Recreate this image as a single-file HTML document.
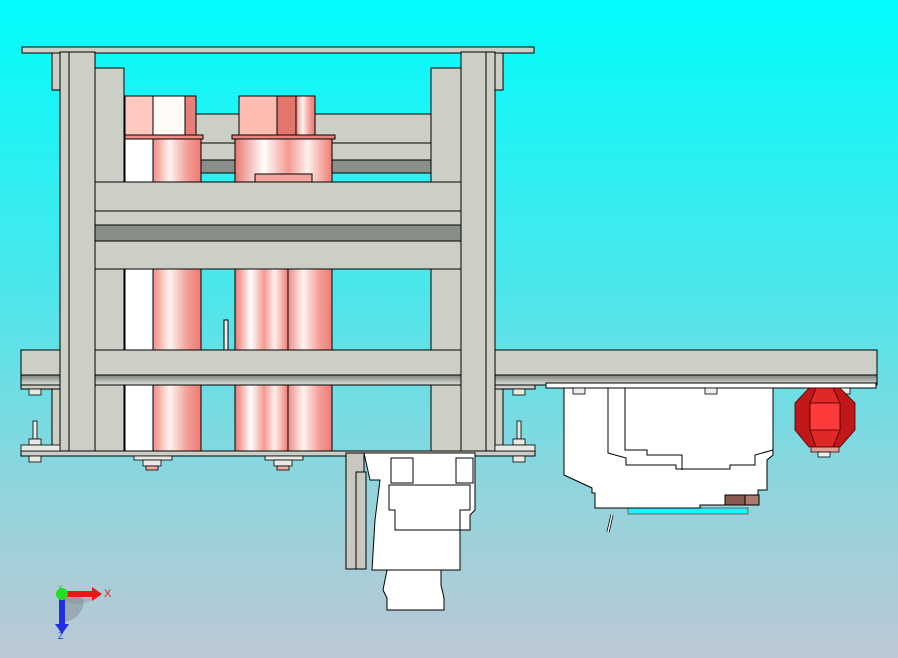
<!DOCTYPE html>
<html><head><meta charset="utf-8"><style>
html,body{margin:0;padding:0;width:898px;height:658px;overflow:hidden}
svg{display:block}
</style></head><body>
<svg width="898" height="658" viewBox="0 0 898 658" xmlns="http://www.w3.org/2000/svg">
<defs>
<linearGradient id="bg" x1="0" y1="0" x2="0" y2="1">
<stop offset="0" stop-color="#00fcfc"/><stop offset="0.45" stop-color="#4ee6ea"/><stop offset="0.75" stop-color="#92d4dc"/><stop offset="1" stop-color="#bcc8d4"/></linearGradient>
<linearGradient id="cyl" x1="0" y1="0" x2="1" y2="0">
<stop offset="0" stop-color="#f08a84"/><stop offset="0.35" stop-color="#fff4f0"/><stop offset="0.7" stop-color="#f4a09a"/><stop offset="1" stop-color="#f07a74"/></linearGradient>
<linearGradient id="cyl2" x1="0" y1="0" x2="1" y2="0">
<stop offset="0" stop-color="#e87870"/><stop offset="0.3" stop-color="#fff"/><stop offset="0.55" stop-color="#f49a92"/><stop offset="0.75" stop-color="#fff0ec"/><stop offset="1" stop-color="#f07c74"/></linearGradient>
<linearGradient id="sh" x1="0" y1="0" x2="0" y2="1">
<stop offset="0" stop-color="#7c807a"/><stop offset="1" stop-color="#e0e2dc"/></linearGradient>
</defs>
<rect width="898" height="658" fill="url(#bg)"/>
<g stroke="#000" stroke-width="1" fill="#cbcfc6">
<!-- top plate -->
<rect x="22" y="47" width="512" height="6"/>
<!-- back beam and rail -->
<rect x="196" y="114" width="235" height="29"/>
<rect x="196" y="143" width="235" height="17"/>
<rect x="196" y="160" width="235" height="13" fill="#8a8e88"/>
<!-- inner columns -->
<rect x="95" y="68" width="29" height="384"/>
<rect x="431" y="68" width="30" height="384"/>
<!-- cylinder 1 -->
<rect x="125" y="96" width="28" height="39" fill="#fcc8c0"/>
<rect x="153" y="96" width="32" height="39" fill="#fffaf6"/>
<rect x="185" y="96" width="11" height="39" fill="#e87f78"/>
<rect x="125" y="135" width="78" height="4" fill="#f08a84"/>
<rect x="125" y="139" width="28" height="43" fill="#fff"/>
<rect x="153" y="139" width="48" height="43" fill="url(#cyl)"/>
<!-- cylinder 2 -->
<rect x="239" y="96" width="38" height="39" fill="#fcbcb2"/>
<rect x="277" y="96" width="19" height="39" fill="#e2756c"/>
<rect x="296" y="96" width="19" height="39" fill="url(#cyl)"/>
<rect x="232" y="135" width="103" height="4" fill="#e8827c"/>
<rect x="235" y="139" width="97" height="43" fill="url(#cyl2)"/>
<rect x="255" y="174" width="57" height="8" fill="#f4a49c"/>
<!-- lower cylinders -->
<rect x="125" y="269" width="28" height="183" fill="#fff"/>
<rect x="153" y="269" width="48" height="183" fill="url(#cyl)"/>
<rect x="235" y="269" width="53" height="183" fill="url(#cyl2)"/>
<rect x="288" y="269" width="44" height="183" fill="url(#cyl)"/>
<rect x="224" y="320" width="4" height="30" fill="#eee"/>
<!-- beam 1 & rails -->
<rect x="95" y="182" width="366" height="29"/>
<rect x="95" y="211" width="366" height="14"/>
<rect x="95" y="225" width="366" height="16" fill="#8a8e88"/>
<rect x="95" y="241" width="366" height="28"/>
<!-- long beam -->
<rect x="21" y="350" width="856" height="25"/>
<rect x="21" y="375" width="856" height="10" fill="url(#sh)"/>
<!-- posts -->
<rect x="60" y="52" width="9" height="400"/>
<rect x="69" y="52" width="26" height="400"/>
<rect x="486" y="52" width="9" height="400"/>
<rect x="461" y="52" width="25" height="400"/>
<!-- brackets -->
<rect x="52" y="53" width="8" height="37"/>
<rect x="495" y="53" width="8" height="37"/>
<rect x="52" y="385" width="8" height="65"/>
<rect x="495" y="385" width="8" height="65"/>
<rect x="21" y="385" width="39" height="4"/>
<rect x="495" y="385" width="40" height="4"/>
<!-- bottom plate -->
<rect x="21" y="451" width="514" height="5"/>
</g>
<!-- bolts -->
<g stroke="#000" stroke-width="0.8" fill="#e8e8e4">
<rect x="29" y="389" width="12" height="6"/><rect x="513" y="389" width="12" height="6"/>
<rect x="33" y="421" width="4" height="18"/><rect x="517" y="421" width="4" height="18"/>
<rect x="29" y="439" width="12" height="6"/><rect x="513" y="439" width="12" height="6"/>
<rect x="21" y="445" width="39" height="6"/><rect x="495" y="445" width="40" height="6"/>
<rect x="29" y="456" width="12" height="6"/><rect x="513" y="456" width="12" height="6"/>
<rect x="134" y="456" width="38" height="4"/><rect x="265" y="456" width="38" height="4"/>
<rect x="143" y="460" width="18" height="6"/><rect x="274" y="460" width="18" height="6"/>
<rect x="146" y="466" width="12" height="4" fill="#f4a8a0"/><rect x="277" y="466" width="12" height="4" fill="#f4a8a0"/>
</g>
<!-- gripper -->
<g stroke="#000" stroke-width="1">
<rect x="346" y="453" width="18" height="116" fill="#c8c8c0"/>
<rect x="356" y="472" width="10" height="97" fill="#c8c8c0"/>
<path d="M364 453 H475 V510 L470 515 V530 H460 V570 H441 V600 H387 V570 H372 L375 520 L380 480 H370 Z" fill="#fff"/>
<path d="M391 458 H413 V483 H391Z M456 458 H473 V483 H456Z" fill="#fff"/>
<path d="M389 485 H470 V510 H460 V530 H395 V510 H389Z" fill="#fff"/>
<path d="M387 570 H441 L441 585 L444 598 V610 H387 V598 L383 590 Z" fill="#fff"/>
</g>
<!-- right box -->
<g stroke="#000" stroke-width="1">
<rect x="546" y="383" width="330" height="5" fill="#fff"/>
<rect x="628" y="508" width="120" height="6" fill="#20f0f8" stroke="#666"/>
<path d="M564 388 H773 V455 L767 460 V490 H758 V505 H700 V508 H595 V493 H592 V488 L564 475Z" fill="#fff"/>
<path d="M608 388 V453 L626 458 V465 H676 V469 H730 V465 H755 V455 L773 450" fill="none"/>
<path d="M625 388 V450 H647 V455 H682 V470" fill="none"/>
<rect x="725" y="495" width="34" height="10" fill="#8a5a50"/>
<rect x="745" y="495" width="14" height="10" fill="#a87a70"/>
<line x1="612" y1="515" x2="608" y2="532" stroke-width="3"/>
<line x1="612" y1="515" x2="608" y2="532" stroke="#fff" stroke-width="1.5"/>
</g>
<g stroke="#000" stroke-width="0.8" fill="#eee">
<rect x="573" y="388" width="12" height="6"/><rect x="705" y="388" width="12" height="6"/><rect x="838" y="388" width="12" height="6"/>
</g>
<!-- red lamp -->
<g stroke="#400" stroke-width="0.8">
<polygon points="809,388 840,388 855,403 855,430 840,447 809,447 795,430 795,403" fill="#c01818"/>
<polygon points="816,388 833,388 840,403 840,430 833,447 816,447 810,430 810,403" fill="#e02828"/>
<rect x="810" y="403" width="30" height="27" fill="#ff3a3a"/>
<rect x="811" y="447" width="28" height="5" fill="#e0a098"/>
<rect x="818" y="452" width="12" height="5" fill="#eee" stroke="#000"/>
</g>
<!-- triad -->
<path d="M62 600 A30 30 0 0 0 92 600 L92 598 L62 598Z" fill="#9aa6ac" opacity="0.6"/>
<path d="M62 594 A22 22 0 0 1 84 600 A22 22 0 0 1 62 622Z" fill="#808a90" opacity="0.5"/>
<rect x="62" y="591" width="32" height="6" fill="#e81818"/>
<polygon points="92,587 102,594 92,601" fill="#e81818"/>
<rect x="59" y="594" width="6" height="32" fill="#2030e0"/>
<polygon points="55,624 69,624 62,634" fill="#2030e0"/>
<circle cx="62" cy="594" r="6" fill="#20e020"/>
<text x="104" y="597" font-family="Liberation Sans, sans-serif" font-size="11" fill="#e02020">X</text>
<text x="58" y="639" font-family="Liberation Sans, sans-serif" font-size="9" fill="#2030e0">Z</text>
<text x="58" y="590" font-family="Liberation Sans, sans-serif" font-size="7" fill="#20c020">Y</text>
</svg>
</body></html>
